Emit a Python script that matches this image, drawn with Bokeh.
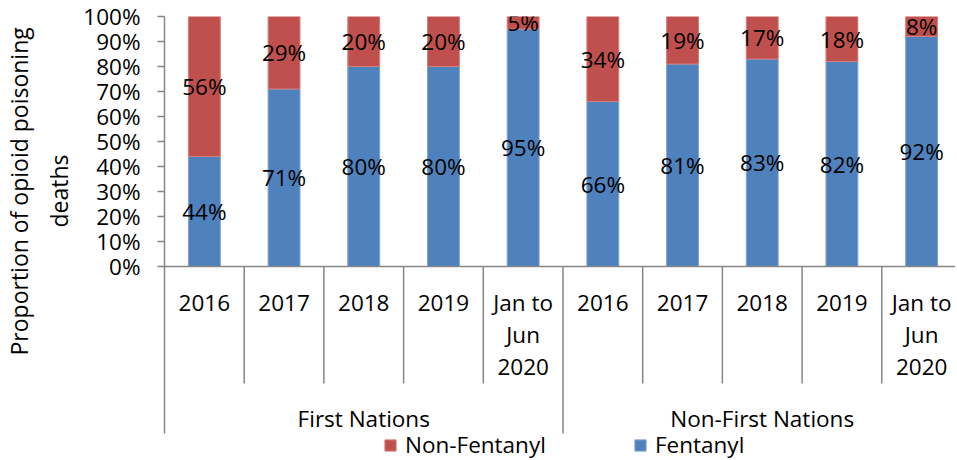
from bokeh.plotting import figure
from bokeh.models import (ColumnDataSource, Range1d, FixedTicker, NumeralTickFormatter,
                          Span, Title, Legend, LegendItem)
from bokeh.core.properties import value
from bokeh.embed import file_html
from bokeh.resources import INLINE

# ---- data ----
groups = ["First Nations", "Non-First Nations"]
periods = ["2016", "2017", "2018", "2019", "Jan to\nJun\n2020"]
fentanyl = [0.44, 0.71, 0.80, 0.80, 0.95, 0.66, 0.81, 0.83, 0.82, 0.92]
non_fentanyl = [0.56, 0.29, 0.20, 0.20, 0.05, 0.34, 0.19, 0.17, 0.18, 0.08]
y_ticks = [i / 10 for i in range(11)]

FONT = "Open Sans"
FS = "22.5px"
GRAY = "#868686"
BLUE = "#4F81BD"
RED = "#C0504D"

n_per = len(periods)
n_cat = n_per * len(groups)
xs = [i + 0.5 for i in range(n_cat)]

p = figure(width=955, height=460, x_range=Range1d(0, 9.925), y_range=Range1d(-0.776, 1.0),
           output_backend="svg", toolbar_location=None, x_axis_location=None,
           min_border_left=161, min_border_right=0, min_border_top=16, min_border_bottom=0)
p.outline_line_color = None
p.xgrid.visible = False
p.ygrid.visible = False

ax = p.yaxis[0]
ax.ticker = FixedTicker(ticks=y_ticks)
ax.formatter = NumeralTickFormatter(format="0%")
ax.bounds = (-0.668, 1.0)
ax.axis_line_color = GRAY
ax.axis_line_width = 1.5
ax.major_tick_line_color = GRAY
ax.major_tick_line_width = 1.5
ax.major_tick_out = 7
ax.major_tick_in = 0
ax.minor_tick_line_color = None
ax.major_label_standoff = 17
ax.major_label_text_font = FONT
ax.major_label_text_font_size = FS
ax.major_label_text_color = "black"

src = ColumnDataSource(dict(x=xs, fentanyl=fentanyl, non=non_fentanyl))
rs = p.vbar_stack(["fentanyl", "non"], x="x", width=0.4, fill_color=[BLUE, RED],
                  line_color=["#7FA3D2", "#D47F7C"], line_width=1, source=src)

# baseline
p.add_layout(Span(location=0, dimension="width", line_color=GRAY, line_width=1.5))

# separators
cat_seps = [i for i in range(1, n_cat) if i % n_per != 0]
grp_seps = [i for i in range(n_per, n_cat + 1, n_per)]
p.segment(x0=cat_seps, y0=[0] * len(cat_seps), x1=cat_seps, y1=[-0.468] * len(cat_seps),
          line_color=GRAY, line_width=1.5)
p.segment(x0=grp_seps, y0=[0] * len(grp_seps), x1=grp_seps, y1=[-0.668] * len(grp_seps),
          line_color=GRAY, line_width=1.5)

# data labels
lab_x = xs + xs
lab_y = [f / 2 for f in fentanyl] + [f + n / 2 for f, n in zip(fentanyl, non_fentanyl)]
lab_t = [f"{round(v * 100)}%" for v in fentanyl + non_fentanyl]
p.text(x=lab_x, y=lab_y, text=lab_t, text_align="center", text_baseline="middle",
       text_font=value(FONT), text_font_size=FS, text_color="black")

# category labels (one text per line)
cx, cy, ct = [], [], []
for i, lab in enumerate(periods * len(groups)):
    for j, line in enumerate(lab.split("\n")):
        cx.append(xs[i])
        cy.append(-0.144 - 0.128 * j)
        ct.append(line)
p.text(x=cx, y=cy, text=ct, text_align="center", text_baseline="middle",
       text_font=value(FONT), text_font_size=FS, text_color="black")
p.text(x=[g * n_per + n_per / 2 for g in range(len(groups))], y=[-0.608] * len(groups),
       text=groups, text_align="center", text_baseline="middle",
       text_font=value(FONT), text_font_size=FS, text_color="black")

# y axis title (two lines, inner first)
for txt, off, so in [("deaths", 233, 11), ("Proportion of opioid poisoning", 105, 1)]:
    p.add_layout(Title(text=txt, align="left", offset=off, standoff=so,
                       text_font=FONT, text_font_size="23px", text_font_style="normal",
                       text_color="black"), "left")

# legends
for item_label, r, loc in [("Non-Fentanyl", rs[1], (219, 0)), ("Fentanyl", rs[0], (469, 0))]:
    leg = Legend(items=[LegendItem(label=item_label, renderers=[r])], location=loc,
                 orientation="horizontal", padding=0, margin=0, border_line_color=None,
                 background_fill_alpha=0, glyph_width=14, glyph_height=14, label_standoff=8,
                 label_text_font=FONT, label_text_font_size=FS, label_text_color="black")
    p.add_layout(leg)

open("out.html", "w").write(file_html(p, INLINE))
